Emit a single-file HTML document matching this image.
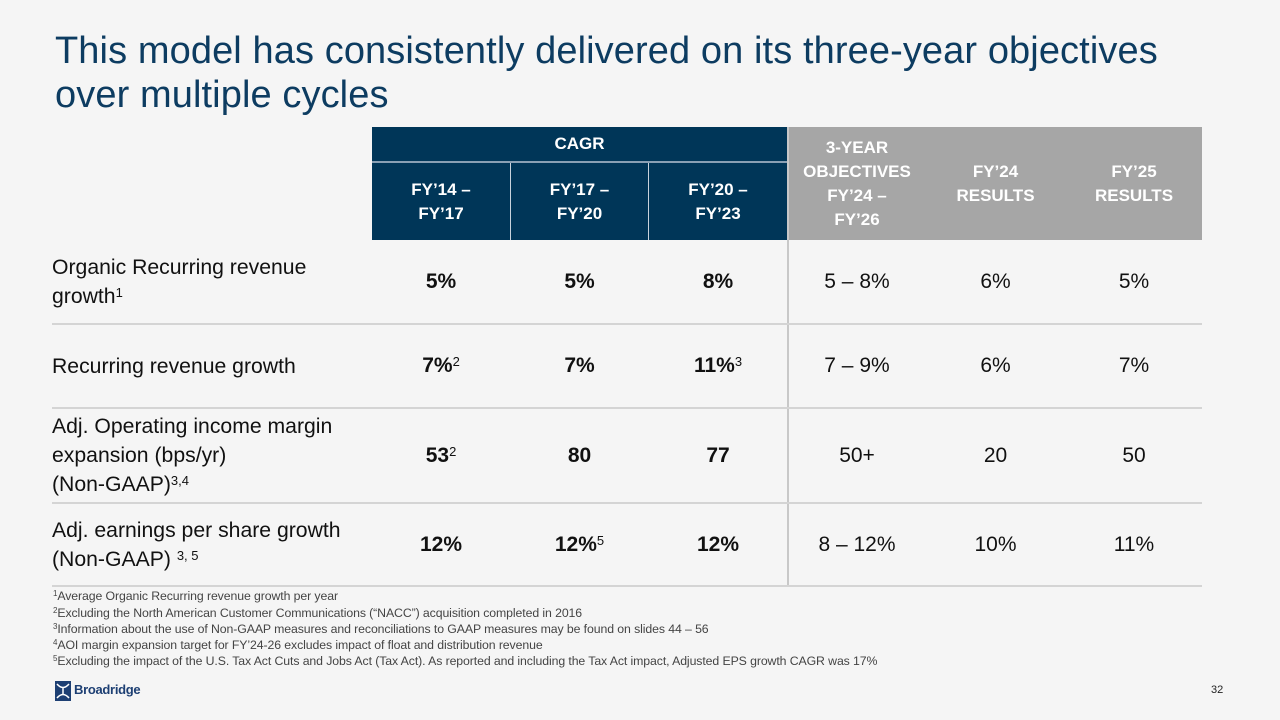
<!DOCTYPE html>
<html><head><meta charset="utf-8"><style>
body{margin:0;width:1280px;height:720px;background:#f5f5f5;font-family:"Liberation Sans",sans-serif;position:relative;overflow:hidden}
.a{position:absolute}
.title{left:55px;top:29px;color:#0d3c61;font-size:38px;line-height:44px;letter-spacing:0.1px;white-space:nowrap}
.hd{background:#003658;color:#fff;font-weight:bold;font-size:17px;text-align:center;display:flex;align-items:center;justify-content:center;line-height:24px}
.hg{color:#fff;font-weight:bold;font-size:17px;text-align:center;display:flex;align-items:center;justify-content:center;line-height:24px}
.lbl{left:52px;font-size:21.2px;line-height:29px;color:#111;display:flex;align-items:center;white-space:nowrap}
.v{font-size:21px;color:#111;text-align:center;display:flex;align-items:center;justify-content:center}
.b{font-weight:bold}
sup{font-size:13px;font-weight:normal;vertical-align:6px;line-height:0}
.ln{left:52px;width:1150px;height:2px;background:#d4d4d4}
.fn{left:53px;font-size:12.3px;color:#444;line-height:14px;white-space:nowrap;letter-spacing:-0.1px}
.fn sup{font-size:8px;vertical-align:4px}
</style></head><body>
<div class="a title">This model has consistently delivered on its three-year objectives<br>over multiple cycles</div>

<div class="a hd" style="left:372px;top:127px;width:415px;height:34px">CAGR</div>
<div class="a" style="left:372px;top:161px;width:415px;height:2px;background:#8aa0b4"></div>
<div class="a hd" style="left:372px;top:163px;width:138px;height:77px">FY’14 –<br>FY’17</div>
<div class="a hd" style="left:511px;top:163px;width:137px;height:77px">FY’17 –<br>FY’20</div>
<div class="a hd" style="left:649px;top:163px;width:138px;height:77px">FY’20 –<br>FY’23</div>
<div class="a" style="left:510px;top:163px;width:1px;height:77px;background:#c8d2dc"></div>
<div class="a" style="left:648px;top:163px;width:1px;height:77px;background:#c8d2dc"></div>
<div class="a" style="left:789px;top:127px;width:413px;height:113px;background:#a6a6a6"></div>
<div class="a hg" style="left:789px;top:127px;width:136px;height:113px">3-YEAR<br>OBJECTIVES<br>FY’24 –<br>FY’26</div>
<div class="a hg" style="left:926px;top:127px;width:139px;height:113px">FY’24<br>RESULTS</div>
<div class="a hg" style="left:1066px;top:127px;width:136px;height:113px">FY’25<br>RESULTS</div>

<div class="a" style="left:787px;top:127px;width:2px;height:459px;background:#c8c8c8"></div>

<div class="a ln" style="top:323px"></div>
<div class="a ln" style="top:407px"></div>
<div class="a ln" style="top:502px"></div>
<div class="a ln" style="top:585px"></div>

<div class="a lbl" style="top:240px;height:83px"><span>Organic Recurring revenue<br>growth<sup>1</sup></span></div>
<div class="a lbl" style="top:325px;height:82px"><span>Recurring revenue growth</span></div>
<div class="a lbl" style="top:409px;height:93px"><span>Adj. Operating income margin<br>expansion (bps/yr)<br>(Non-GAAP)<sup>3,4</sup></span></div>
<div class="a lbl" style="top:504px;height:81px"><span>Adj. earnings per share growth<br>(Non-GAAP) <sup>3, 5</sup></span></div>

<div class="a v b" style="left:372px;top:240px;width:138px;height:83px">5%</div>
<div class="a v b" style="left:511px;top:240px;width:137px;height:83px">5%</div>
<div class="a v b" style="left:649px;top:240px;width:138px;height:83px">8%</div>
<div class="a v" style="left:789px;top:240px;width:136px;height:83px">5 – 8%</div>
<div class="a v" style="left:926px;top:240px;width:139px;height:83px">6%</div>
<div class="a v" style="left:1066px;top:240px;width:136px;height:83px">5%</div>

<div class="a v b" style="left:372px;top:325px;width:138px;height:82px"><span>7%<sup>2</sup></span></div>
<div class="a v b" style="left:511px;top:325px;width:137px;height:82px">7%</div>
<div class="a v b" style="left:649px;top:325px;width:138px;height:82px"><span>11%<sup>3</sup></span></div>
<div class="a v" style="left:789px;top:325px;width:136px;height:82px">7 – 9%</div>
<div class="a v" style="left:926px;top:325px;width:139px;height:82px">6%</div>
<div class="a v" style="left:1066px;top:325px;width:136px;height:82px">7%</div>

<div class="a v b" style="left:372px;top:409px;width:138px;height:93px"><span>53<sup>2</sup></span></div>
<div class="a v b" style="left:511px;top:409px;width:137px;height:93px">80</div>
<div class="a v b" style="left:649px;top:409px;width:138px;height:93px">77</div>
<div class="a v" style="left:789px;top:409px;width:136px;height:93px">50+</div>
<div class="a v" style="left:926px;top:409px;width:139px;height:93px">20</div>
<div class="a v" style="left:1066px;top:409px;width:136px;height:93px">50</div>

<div class="a v b" style="left:372px;top:504px;width:138px;height:81px">12%</div>
<div class="a v b" style="left:511px;top:504px;width:137px;height:81px"><span>12%<sup>5</sup></span></div>
<div class="a v b" style="left:649px;top:504px;width:138px;height:81px">12%</div>
<div class="a v" style="left:789px;top:504px;width:136px;height:81px">8 – 12%</div>
<div class="a v" style="left:926px;top:504px;width:139px;height:81px">10%</div>
<div class="a v" style="left:1066px;top:504px;width:136px;height:81px">11%</div>

<div class="a fn" style="top:589px"><sup>1</sup>Average Organic Recurring revenue growth per year</div>
<div class="a fn" style="top:606px"><sup>2</sup>Excluding the North American Customer Communications (“NACC”) acquisition completed in 2016</div>
<div class="a fn" style="top:622px"><sup>3</sup>Information about the use of Non-GAAP measures and reconciliations to GAAP measures may be found on slides 44 – 56</div>
<div class="a fn" style="top:638px"><sup>4</sup>AOI margin expansion target for FY’24-26 excludes impact of float and distribution revenue</div>
<div class="a fn" style="top:654px"><sup>5</sup>Excluding the impact of the U.S. Tax Act Cuts and Jobs Act (Tax Act). As reported and including the Tax Act impact, Adjusted EPS growth CAGR was 17%</div>

<svg class="a" style="left:55px;top:681px" width="16" height="20" viewBox="0 0 16 20"><rect width="16" height="20" fill="#1d3f73"/><path d="M2 3 Q8 10 14 3 M2 17 Q8 10 14 17 M8 6 V14" stroke="#fff" stroke-width="1.5" fill="none"/></svg>
<div class="a" style="left:74px;top:682px;font-size:13px;font-weight:bold;color:#1d3f73;letter-spacing:-0.3px">Broadridge</div>
<div class="a" style="left:1211px;top:684px;font-size:11px;color:#222">32</div>
</body></html>
